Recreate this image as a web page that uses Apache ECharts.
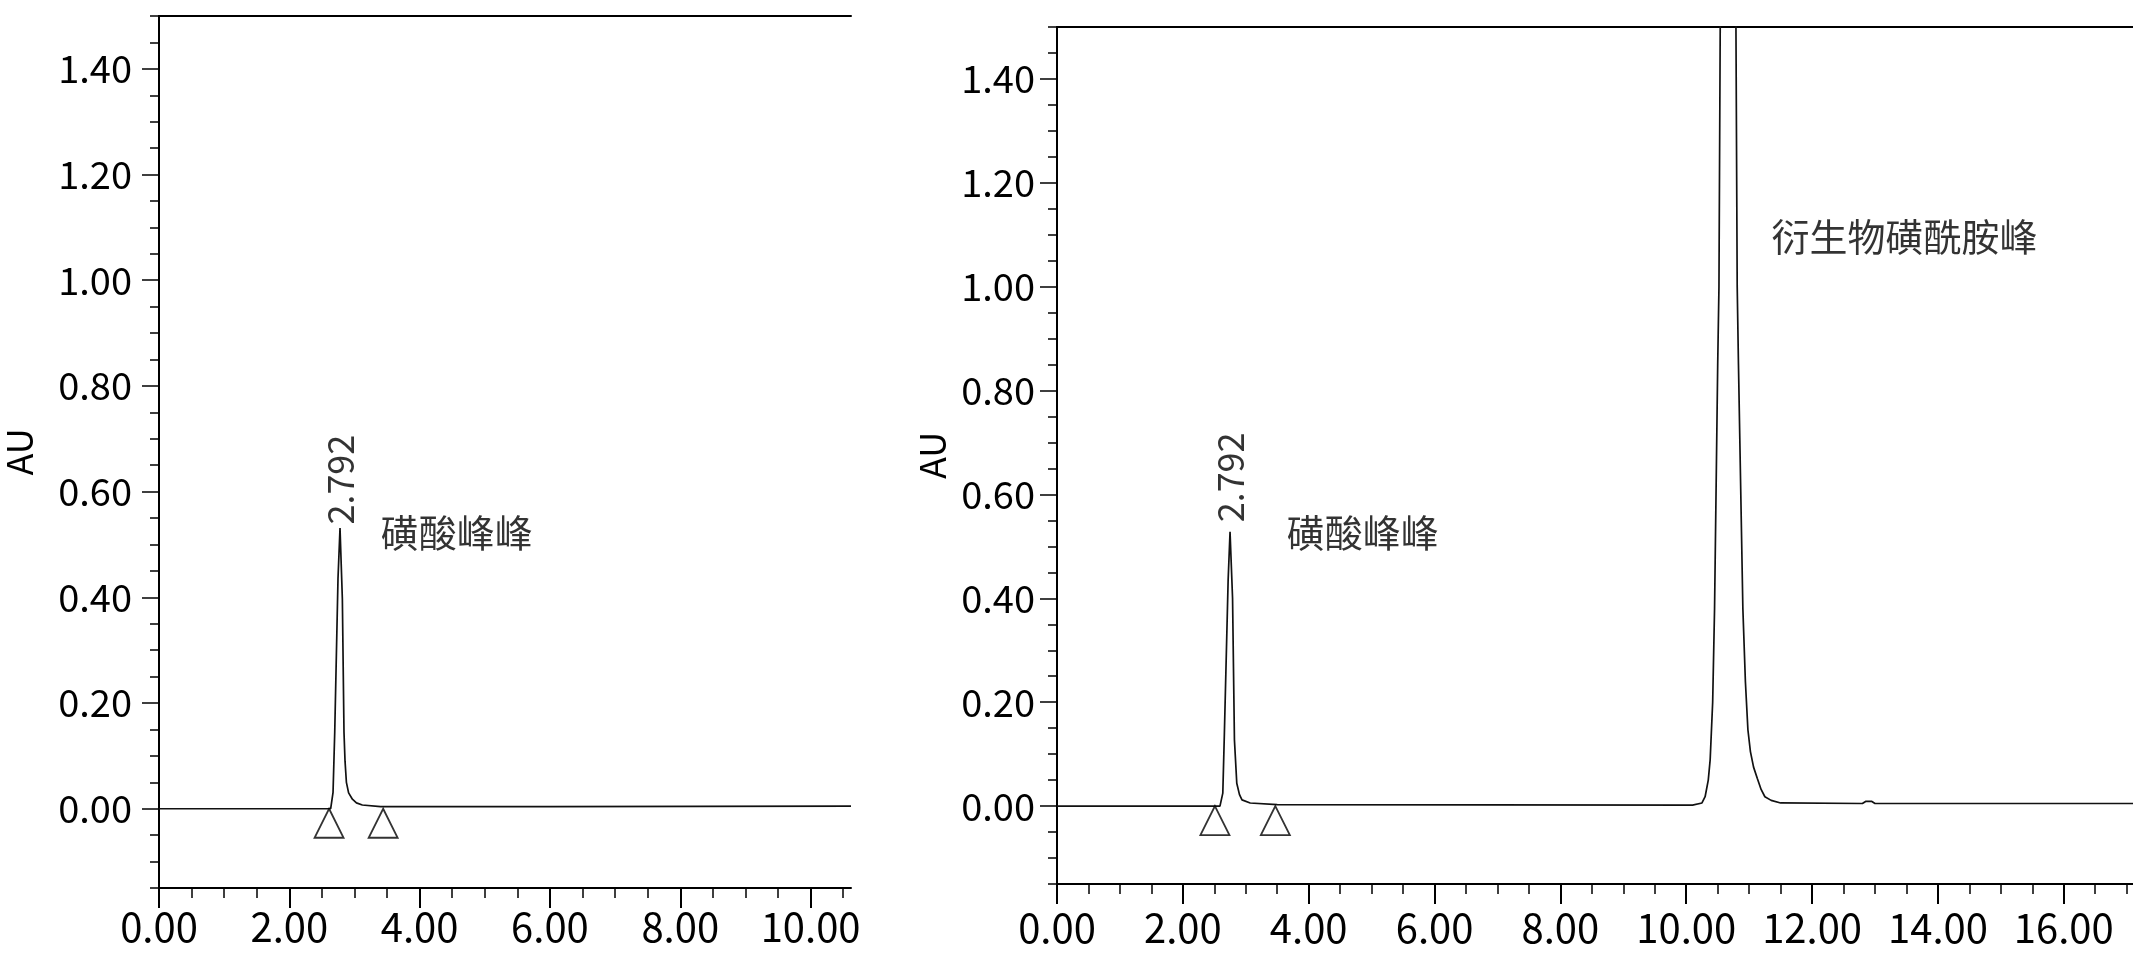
<!DOCTYPE html>
<html>
<head>
<meta charset="utf-8">
<script src="https://cdn.jsdelivr.net/npm/echarts@6/dist/echarts.min.js"></script>
<style>
html,body{margin:0;padding:0;background:#fff;}
#c{width:2133px;height:954px;}
</style>
</head>
<body>
<div id="c"></div>
<script>
// ---------- data ----------
// Left chromatogram: retention time (min), absorbance (AU)
const leftTrace = [
  [0.00, 0.000], [2.635, 0.000], [2.671, 0.031], [2.697, 0.145], [2.747, 0.435],
  [2.778, 0.531], [2.814, 0.397], [2.839, 0.145], [2.855, 0.090], [2.876, 0.050],
  [2.91, 0.030], [2.968, 0.018], [3.03, 0.011], [3.12, 0.007], [3.40, 0.004],
  [6.00, 0.004], [10.62, 0.005]
];
// Right chromatogram
const rightTrace = [
  [0.00, 0.000], [2.59, 0.000], [2.635, 0.025], [2.66, 0.140], [2.72, 0.436],
  [2.75, 0.528], [2.79, 0.400], [2.82, 0.127], [2.857, 0.044], [2.90, 0.022],
  [2.94, 0.012], [3.07, 0.006], [3.50, 0.003], [10.10, 0.002], [10.25, 0.006],
  [10.30, 0.018], [10.35, 0.050], [10.38, 0.089], [10.42, 0.200], [10.45, 0.380],
  [10.50, 0.850], [10.52, 1.000], [10.54, 1.500], [10.66, 2.600], [10.79, 1.500],
  [10.81, 1.000], [10.83, 0.850], [10.90, 0.380], [10.94, 0.240], [10.98, 0.147],
  [11.02, 0.105], [11.07, 0.075], [11.13, 0.053], [11.19, 0.032], [11.25, 0.018],
  [11.35, 0.011], [11.50, 0.006], [12.80, 0.005], [12.85, 0.009], [12.95, 0.009],
  [13.00, 0.005], [17.10, 0.005]
];
// integration start/end markers (triangles) on the baseline
const leftMarkers = [[2.61, 0], [3.44, 0]];
const rightMarkers = [[2.51, 0], [3.47, 0]];
// peak apex positions used for the retention-time label
const leftApex = [2.778, 0.531];
const rightApex = [2.75, 0.528];
const peakRTLabel = '2.792';
// text annotations [x, y, text]
const leftNotes = [[4.57, 0.522, '磺酸峰峰']];
const rightNotes = [[4.86, 0.527, '磺酸峰峰'], [13.47, 1.097, '衍生物磺酰胺峰']];
// axis ticks
const yTickLabels = [0.00, 0.20, 0.40, 0.60, 0.80, 1.00, 1.20, 1.40];
const leftXTickLabels = [0, 2, 4, 6, 8, 10];
const rightXTickLabels = [0, 2, 4, 6, 8, 10, 12, 14, 16];
const yRange = [-0.15, 1.5];
const leftXMax = 10.62;
const rightXMax = 17.1;
const yName = 'AU';

// ---------- helpers ----------
function steps(from, to, step) {
  const out = [];
  for (let v = from; v <= to + 1e-9; v += step) out.push(Math.round(v * 1000) / 1000);
  return out;
}
const yMinor = steps(-0.15, 1.5, 0.05);
const leftXMinor = steps(0, leftXMax, 0.5);
const rightXMinor = steps(0, rightXMax, 0.5);

const NUM_FONT = "'Noto Sans CJK SC', 'Noto Sans', sans-serif";
const CJK_FONT = "'Noto Sans CJK SC', sans-serif";
const BLACK = '#000';

function xAxes(grid, max, major, minor, labelMargin) {
  return [
    { type: 'value', gridIndex: grid, position: 'bottom', min: 0, max: max,
      axisLine: { show: true, onZero: false, lineStyle: { color: BLACK, width: 2 } },
      axisTick: { show: true, customValues: major, length: 20, lineStyle: { color: BLACK, width: 2 } },
      axisLabel: { show: true, customValues: major, margin: labelMargin,
        formatter: v => Number(v).toFixed(2),
        color: BLACK, fontSize: 40, fontFamily: NUM_FONT },
      splitLine: { show: false } },
    { type: 'value', gridIndex: grid, position: 'bottom', min: 0, max: max,
      axisLine: { show: false, onZero: false },
      axisTick: { show: true, customValues: minor, length: 10, lineStyle: { color: BLACK, width: 1.5 } },
      axisLabel: { show: false }, splitLine: { show: false } },
    { type: 'value', gridIndex: grid, position: 'top', min: 0, max: max,
      axisLine: { show: true, onZero: false, lineStyle: { color: BLACK, width: 2 } },
      axisTick: { show: false }, axisLabel: { show: false }, splitLine: { show: false } }
  ];
}
function yAxes(grid, labelMargin, nameGap) {
  return [
    { type: 'value', gridIndex: grid, position: 'left', min: yRange[0], max: yRange[1],
      name: yName, nameLocation: 'middle', nameRotate: 90, nameGap: nameGap,
      nameTextStyle: { color: BLACK, fontSize: 36, fontFamily: NUM_FONT },
      axisLine: { show: true, onZero: false, lineStyle: { color: BLACK, width: 2 } },
      axisTick: { show: true, customValues: yTickLabels, length: 17, lineStyle: { color: BLACK, width: 1.5 } },
      axisLabel: { show: true, customValues: yTickLabels, margin: labelMargin,
        formatter: v => Number(v).toFixed(2),
        color: BLACK, fontSize: 38, fontFamily: NUM_FONT },
      splitLine: { show: false } },
    { type: 'value', gridIndex: grid, position: 'left', min: yRange[0], max: yRange[1],
      axisLine: { show: false, onZero: false },
      axisTick: { show: true, customValues: yMinor, length: 9, lineStyle: { color: BLACK, width: 1.5 } },
      axisLabel: { show: false }, splitLine: { show: false } }
  ];
}
function traceSeries(data, xi, yi) {
  return { type: 'line', data: data, xAxisIndex: xi, yAxisIndex: yi,
    showSymbol: false, symbol: 'none', clip: true, smooth: false,
    lineStyle: { color: '#111', width: 1.7 }, z: 3 };
}
function markerSeries(data, xi, yi) {
  return { type: 'scatter', data: data, xAxisIndex: xi, yAxisIndex: yi,
    symbol: 'triangle', symbolSize: [29, 29], symbolOffset: [0, 14.5],
    itemStyle: { color: '#fff', borderColor: BLACK, borderWidth: 1.8 }, z: 4 };
}
function noteSeries(notes, apex, xi, yi, rtOffsetX) {
  const items = notes.map(n => ({
    value: [n[0], n[1]],
    label: { show: true, position: 'inside', formatter: n[2],
      fontSize: 38, fontFamily: CJK_FONT, color: BLACK }
  }));
  items.push({
    value: apex,
    label: { show: true, position: 'top', distance: 11, rotate: 90,
      align: 'left', verticalAlign: 'middle', offset: [rtOffsetX, 0],
      formatter: peakRTLabel, fontSize: 36,
      fontFamily: "'Liberation Sans Narrow', 'Noto Sans CJK SC', sans-serif", color: BLACK }
  });
  return { type: 'scatter', data: items, xAxisIndex: xi, yAxisIndex: yi,
    symbolSize: 1, itemStyle: { color: 'rgba(0,0,0,0)' }, z: 5, silent: true };
}

const chart = echarts.init(document.getElementById('c'), null, { renderer: 'canvas' });
chart.setOption({
  animation: false,
  backgroundColor: '#fff',
  grid: [
    { left: 158, top: 16, width: 693, height: 872 },
    { left: 1057, top: 27, right: 0, height: 857 }
  ],
  xAxis: [].concat(
    xAxes(0, leftXMax, leftXTickLabels, leftXMinor, 19),
    xAxes(1, rightXMax, rightXTickLabels, rightXMinor, 24)
  ),
  yAxis: [].concat(
    yAxes(0, 27, 122),
    yAxes(1, 22, 106)
  ),
  series: [
    traceSeries(leftTrace, 0, 0),
    markerSeries(leftMarkers, 0, 0),
    noteSeries(leftNotes, leftApex, 0, 0, -8),
    traceSeries(rightTrace, 3, 2),
    markerSeries(rightMarkers, 3, 2),
    noteSeries(rightNotes, rightApex, 3, 2, -2)
  ]
});
</script>
</body>
</html>
